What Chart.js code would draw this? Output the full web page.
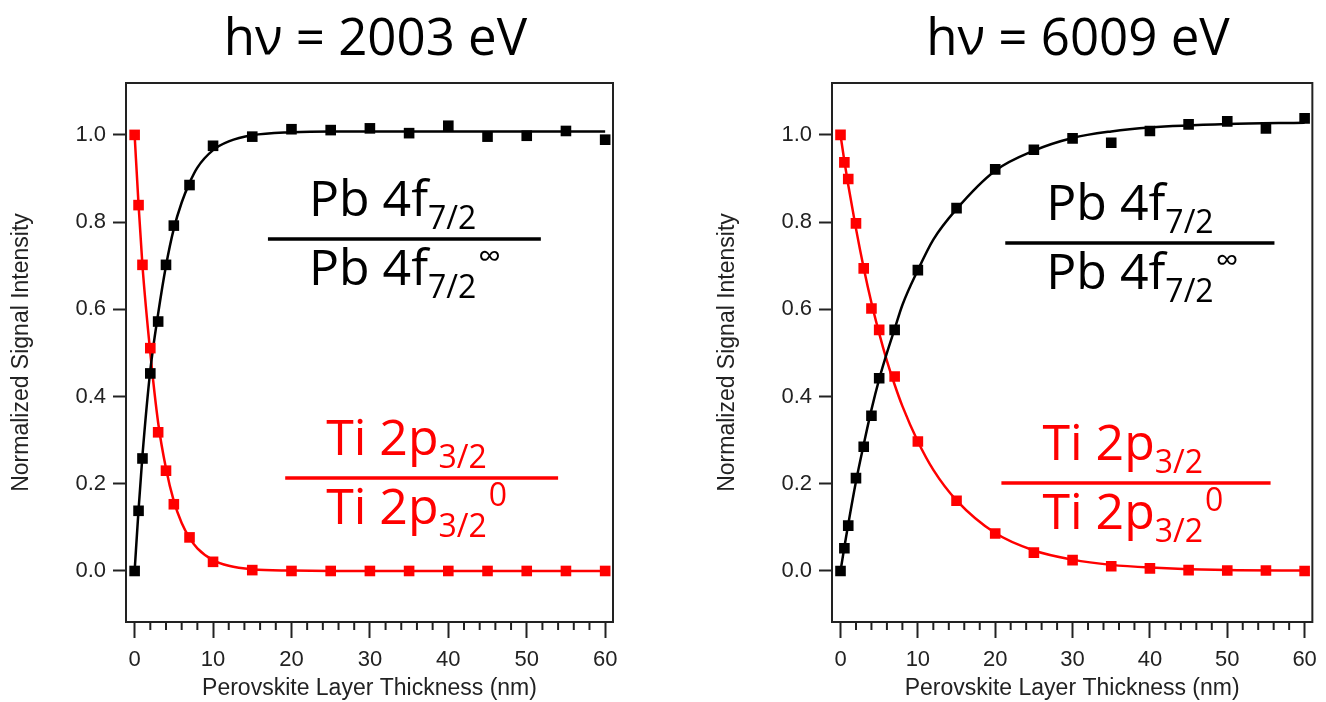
<!DOCTYPE html>
<html>
<head>
<meta charset="utf-8">
<script src="https://cdn.jsdelivr.net/npm/chart.js@4.4.1/dist/chart.umd.min.js"></script>
<style>
  html, body { margin: 0; padding: 0; background: #fff; }
  #wrap { position: relative; width: 1326px; height: 702px; }
  canvas { position: absolute; top: 0; }
  #left { left: 0; }
  #right { left: 706px; }
</style>
</head>
<body>
<div id="wrap">
  <canvas id="left" width="663" height="702"></canvas>
  <canvas id="right" width="620" height="702"></canvas>
</div>
<script>
// layer thickness (nm) of the measured points
const thickness = [0, 0.5, 1, 2, 3, 4, 5, 7, 10, 15, 20, 25, 30, 35, 40, 45, 50, 55, 60];

// hv = 2003 eV
const pb2003 = [0, 0.138, 0.258, 0.453, 0.572, 0.702, 0.792, 0.885, 0.975, 0.996, 1.013, 1.011, 1.015, 1.004, 1.021, 0.996, 0.998, 1.009, 0.989];
const ti2003 = [1.0, 0.839, 0.702, 0.511, 0.318, 0.230, 0.153, 0.077, 0.021, 0.002, 0, 0, 0, 0, 0, 0, 0, 0, 0];

// hv = 6009 eV
const pb6009 = [0, 0.052, 0.104, 0.213, 0.285, 0.356, 0.442, 0.553, 0.690, 0.832, 0.921, 0.966, 0.992, 0.982, 1.009, 1.024, 1.031, 1.015, 1.038];
const ti6009 = [1.0, 0.937, 0.899, 0.797, 0.694, 0.602, 0.553, 0.446, 0.297, 0.161, 0.086, 0.042, 0.025, 0.011, 0.006, 0.002, 0.001, 0.001, 0.0];

// fit curves
const fitX = [0, 0.5, 1, 2, 3, 4, 5, 6, 7, 8, 10, 12, 15, 20, 25, 30, 35, 40, 50, 60];
const pbFit2003 = [0, 0.14, 0.265, 0.46, 0.59, 0.70, 0.785, 0.845, 0.89, 0.925, 0.965, 0.985, 0.999, 1.006, 1.008, 1.008, 1.008, 1.008, 1.008, 1.008];
const tiFit2003 = [1.0, 0.84, 0.70, 0.50, 0.34, 0.235, 0.16, 0.11, 0.076, 0.052, 0.025, 0.012, 0.004, 0.001, 0, 0, 0, 0, 0, 0];
const pbFit6009 = [0, 0.055, 0.107, 0.205, 0.29, 0.37, 0.44, 0.50, 0.555, 0.61, 0.69, 0.76, 0.83, 0.918, 0.964, 0.993, 1.008, 1.017, 1.025, 1.028];
const tiFit6009 = [1.0, 0.94, 0.885, 0.785, 0.695, 0.615, 0.545, 0.482, 0.427, 0.378, 0.297, 0.232, 0.162, 0.087, 0.047, 0.026, 0.014, 0.008, 0.002, 0.001];

const xTickValues = [0, 10, 20, 30, 40, 50, 60];
const yTickValues = [0, 0.2, 0.4, 0.6, 0.8, 1.0];

const axisFont = "'Liberation Sans', Arial, sans-serif";
const textFont = "'Open Sans', 'Noto Sans', sans-serif";
const RED = "#ff0000";
const INK = "#222";

function pts(xs, ys) {
  return xs.map((x, i) => ({ x: x, y: ys[i] }));
}

// draws "main", sub and sup pieces one after another
function drawRich(ctx, x, y, parts) {
  let cx = x;
  parts.forEach(([t, kind]) => {
    const small = kind !== "n";
    ctx.font = (small ? 32 : 50) + "px " + textFont;
    const dy = kind === "sub" ? 13 : kind === "sup" ? -18 : 0;
    if (kind === "sup") cx += 2;
    ctx.fillText(t, cx, y + dy);
    cx += ctx.measureText(t).width;
  });
}

const labelPlugin = {
  id: "labels",
  beforeDatasetsDraw(chart) {
    const { ctx, chartArea } = chart;
    ctx.save();
    ctx.strokeStyle = INK;
    ctx.lineWidth = 2;
    ctx.strokeRect(chartArea.left, chartArea.top, chartArea.right - chartArea.left, chartArea.bottom - chartArea.top);

    // minor ticks on the x axis
    const xs = chart.scales.x;
    for (let v = 2; v < 60; v += 2) {
      if (v % 10 === 0) continue;
      const px = xs.getPixelForValue(v);
      ctx.beginPath();
      ctx.moveTo(px, chartArea.bottom);
      ctx.lineTo(px, chartArea.bottom + 8);
      ctx.stroke();
    }
    ctx.restore();
  },
  afterDraw(chart, args, opts) {
    const { ctx } = chart;
    const xs = chart.scales.x, ys = chart.scales.y;
    ctx.save();
    ctx.fillStyle = "#000";
    ctx.textAlign = "center";
    ctx.textBaseline = "alphabetic";
    ctx.font = "51px " + textFont;
    ctx.fillText(opts.title, xs.getPixelForValue(30.7), 55);

    ctx.textAlign = "left";
    opts.fractions.forEach(f => {
      const x1 = xs.getPixelForValue(f.x1), x2 = xs.getPixelForValue(f.x2);
      const ly = ys.getPixelForValue(f.y);
      ctx.fillStyle = f.color;
      ctx.strokeStyle = f.color;
      ctx.lineWidth = 3.5;
      ctx.beginPath();
      ctx.moveTo(x1, ly);
      ctx.lineTo(x2, ly);
      ctx.stroke();
      drawRich(ctx, x1 + 41, ly - 23, f.top);
      drawRich(ctx, x1 + 41, ly + 46, f.bottom);
    });
    ctx.restore();
  }
};

function makeChart(id, title, pb, ti, pbFit, tiFit, fractions, padRight) {
  const ctx = document.getElementById(id).getContext("2d");
  return new Chart(ctx, {
    type: "scatter",
    data: {
      datasets: [
        { data: pts(thickness, ti), showLine: false, pointStyle: "rect", pointRadius: 7.5, backgroundColor: RED, borderColor: RED, borderWidth: 0, order: 0 },
        { data: pts(thickness, pb), showLine: false, pointStyle: "rect", pointRadius: 7.5, backgroundColor: "#000", borderColor: "#000", borderWidth: 0, order: 0 },
        { data: pts(fitX, pbFit), showLine: true, pointRadius: 0, borderColor: "#000", borderWidth: 2.5, cubicInterpolationMode: "monotone", order: 1 },
        { data: pts(fitX, tiFit), showLine: true, pointRadius: 0, borderColor: RED, borderWidth: 2.5, cubicInterpolationMode: "monotone", order: 1 }
      ]
    },
    options: {
      responsive: false,
      animation: false,
      events: [],
      layout: { padding: { top: 83, right: padRight, bottom: 0, left: 0 } },
      plugins: {
        legend: { display: false },
        tooltip: { enabled: false },
        labels: { title: title, fractions: fractions }
      },
      scales: {
        x: {
          type: "linear", min: -1.1, max: 61,
          afterBuildTicks: s => { s.ticks = xTickValues.map(v => ({ value: v })); },
          afterFit: s => { s.height = 80; },
          border: { display: false },
          grid: { drawOnChartArea: false, tickLength: 16, tickWidth: 2, tickColor: INK },
          ticks: { font: { family: axisFont, size: 22 }, color: INK, padding: 9, maxRotation: 0, autoSkip: false },
          title: { display: true, text: "Perovskite Layer Thickness (nm)", font: { family: axisFont, size: 23 }, color: INK, padding: { top: 0, bottom: 0 } }
        },
        y: {
          type: "linear", min: -0.117, max: 1.119,
          afterBuildTicks: s => { s.ticks = yTickValues.map(v => ({ value: v })); },
          afterFit: s => { s.width = 126; },
          border: { display: false },
          grid: { drawOnChartArea: false, tickLength: 13, tickWidth: 2, tickColor: INK },
          ticks: { font: { family: axisFont, size: 22 }, color: INK, padding: 7, callback: v => v.toFixed(1) },
          title: { display: true, text: "Normalized Signal Intensity", font: { family: axisFont, size: 23 }, color: INK, padding: { top: 8, bottom: 0 } }
        }
      }
    },
    plugins: [labelPlugin]
  });
}

const pbTop = [["Pb 4f", "n"], ["7/2", "sub"]];
const pbBottom = [["Pb 4f", "n"], ["7/2", "sub"], ["\u221E", "sup"]];
const tiTop = [["Ti 2p", "n"], ["3/2", "sub"]];
const tiBottom = [["Ti 2p", "n"], ["3/2", "sub"], ["0", "sup"]];

makeChart("left", "h\u03BD = 2003 eV", pb2003, ti2003, pbFit2003, tiFit2003, [
  { x1: 17.0, x2: 51.8, y: 0.761, color: "#000", top: pbTop, bottom: pbBottom },
  { x1: 19.2, x2: 54.0, y: 0.213, color: RED, top: tiTop, bottom: tiBottom }
], 50);

makeChart("right", "h\u03BD = 6009 eV", pb6009, ti6009, pbFit6009, tiFit6009, [
  { x1: 21.3, x2: 56.1, y: 0.752, color: "#000", top: pbTop, bottom: pbBottom },
  { x1: 20.8, x2: 55.6, y: 0.202, color: RED, top: tiTop, bottom: tiBottom }
], 9);
</script>
</body>
</html>
